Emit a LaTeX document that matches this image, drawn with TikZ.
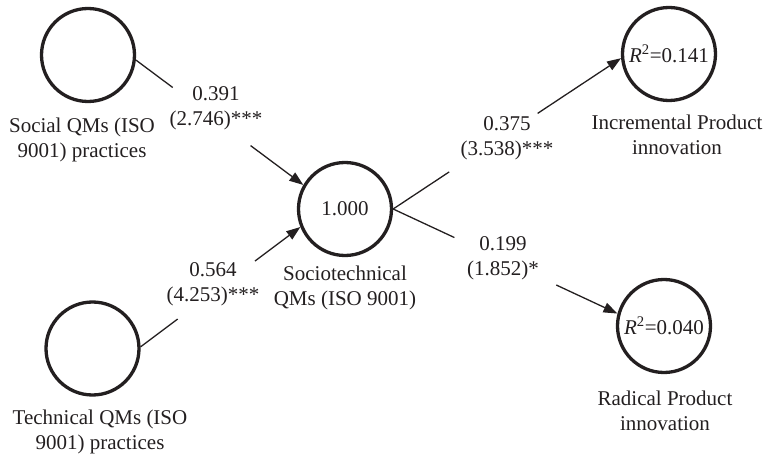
\documentclass[tikz,border=0pt]{standalone}
\usepackage{fontspec}
\setmainfont{Liberation Serif}
\usetikzlibrary{arrows.meta,calc}
\definecolor{PathInk}{HTML}{231F20}
\tikzset{
  figtext/.style={font=\fontsize{21}{25}\selectfont, text=PathInk},
  construct/.style={circle, draw=PathInk, line width=3.3pt, minimum size=93pt, inner sep=0pt, figtext},
  caption/.style={figtext, align=center},
  coef/.style={figtext, align=center},
  pathline/.style={draw=PathInk, line width=1.3pt},
  patharrow/.style={pathline, -{Triangle[length=14pt,width=10pt]}}
}
\newcommand{\rsq}[1]{\textit{R}\textsuperscript{2}=#1}

\begin{document}
\begin{tikzpicture}[x=1pt,y=-1pt]
\useasboundingbox (0,0) rectangle (774,457);
% constructs
\node[construct] (soc) at (88,55) {};
\node[construct] (tech) at (92.5,348.5) {};
\node[construct] (st) at (345,209) {1.000};
\node[construct] (inc) at (669,54) {\rsq{0.141}};
\node[construct] (rad) at (664,326) {\rsq{0.040}};
\node[caption] (soccap) at (82,140) {Social QMs (ISO\\9001) practices};
\node[caption] (techcap) at (100,432) {Technical QMs (ISO\\9001) practices};
\node[caption] (stcap) at (345,288) {Sociotechnical\\QMs (ISO 9001)};
\node[caption] (inccap) at (677,135) {Incremental Product\\innovation};
\node[caption] (radcap) at (665,411) {Radical Product\\innovation};
% path coefficients
\node[coef] (c1) at (216,108) {0.391\\(2.746)***};
\node[coef] (c2) at (213,284) {0.564\\(4.253)***};
\node[coef] (c3) at (507,138) {0.375\\(3.538)***};
\node[coef] (c4) at (503,258) {0.199\\(1.852)*};
% broken connectors round the coefficients
\coordinate (g1a) at ($(soc.-6)!0.22!(st.150)$);
\coordinate (g1b) at ($(soc.-6)!0.685!(st.150)$);
\coordinate (g2a) at ($(tech.2)!0.232!(st.202)$);
\coordinate (g2b) at ($(tech.2)!0.716!(st.202)$);
\coordinate (g3a) at ($(st.east)!0.246!(inc.185)$);
\coordinate (g3b) at ($(st.east)!0.634!(inc.185)$);
\coordinate (g4a) at ($(st.east)!0.273!(rad.165)$);
\coordinate (g4b) at ($(st.east)!0.727!(rad.165)$);
\draw[pathline] (soc.-6) -- (g1a);
\draw[patharrow] (g1b) -- (st.150);
\draw[pathline] (tech.2) -- (g2a);
\draw[patharrow] (g2b) -- (st.202);
\draw[pathline] (st.east) -- (g3a);
\draw[patharrow] (g3b) -- (inc.185);
\draw[pathline] (st.east) -- (g4a);
\draw[patharrow] (g4b) -- (rad.165);
\end{tikzpicture}
\end{document}
